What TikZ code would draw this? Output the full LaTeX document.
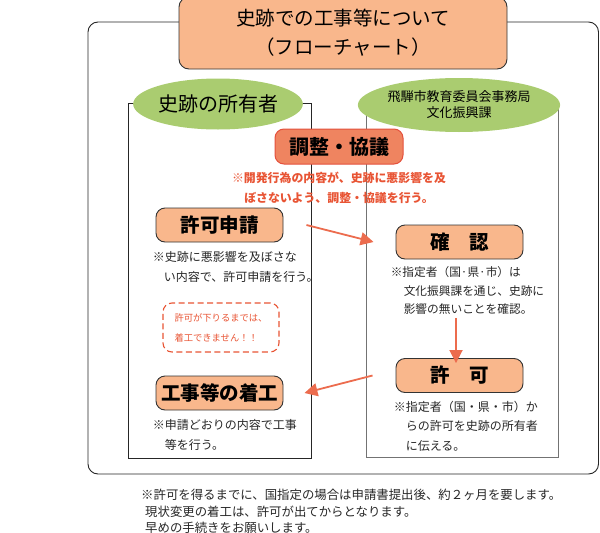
\documentclass[tikz,border=0pt]{standalone}
\usepackage{fontspec}
\setmainfont{Noto Sans CJK JP}
\usetikzlibrary{arrows.meta,positioning,shapes.geometric}
\definecolor{boxfill}{RGB}{249,183,140}
\definecolor{leaf}{RGB}{170,204,112}
\definecolor{talk}{RGB}{239,132,96}
\definecolor{talkline}{RGB}{228,80,60}
\definecolor{warn}{RGB}{232,84,52}
\definecolor{flow}{RGB}{236,108,78}
\newcommand{\fs}[2]{\fontsize{#1}{#2}\selectfont}

\begin{document}
\begin{tikzpicture}[x=1pt, y=-1pt,
  font=\fs{12}{19.5},
  outer/.style={draw=black!85, line width=0.9pt, rounded corners=10pt},
  colbox/.style={draw=black!85, line width=0.9pt},
  ttl/.style={draw=black!80, line width=0.9pt, rounded corners=10pt, fill=boxfill, minimum width=328pt, minimum height=72pt, align=center, font=\fs{19.5}{29}},
  ov/.style={ellipse, fill=leaf, inner sep=0pt, align=center},
  talkbox/.style={draw=talkline, line width=1pt, rounded corners=9pt, fill=talk, minimum width=128pt, minimum height=35pt, inner sep=0pt, font=\fs{20}{20}\bfseries},
  stepbox/.style={draw=black!80, line width=0.9pt, rounded corners=9pt, fill=boxfill, minimum width=127pt, minimum height=34pt, inner sep=0pt, font=\fs{19.5}{20}\bfseries},
  warnnote/.style={text=warn, align=center, inner sep=0pt, font=\fs{11.9}{20}\bfseries},
  nt/.style={anchor=north west, align=left, inner sep=0pt, text=black!85},
  hold/.style={draw=warn, dashed, dash pattern=on 6pt off 3.5pt, line width=1.1pt, rounded corners=9pt, minimum width=116pt, minimum height=49pt, inner sep=0pt, align=left, text=warn, font=\fs{9.3}{20}},
  pf/.style={draw=flow, line width=1.8pt, -{Triangle[length=13pt,width=13pt]}}
]
\useasboundingbox (0,0) rectangle (600,533);

% frames
\draw[outer] (88,22) rectangle (598.5,474);
\draw[colbox] (128,103) rectangle (311,458);
\draw[colbox, draw=black!55] (366,104) rectangle (558,457);

\node[ttl] (title) at (343,33) {史跡での工事等について\\（フローチャート）};
\node[ov, minimum width=150pt, minimum height=51pt, font=\fs{20}{20}] (owner) at (218,104) {史跡の所有者};
\node[ov, minimum width=168pt, minimum height=54pt, font=\fs{13}{16}] (city) at (459,105) {飛騨市教育委員会事務局\\文化振興課};

\node[talkbox] (talk) at (339,146.5) {調整・協議};
\node[warnnote, below=7pt of talk] (talkn) {※開発行為の内容が、史跡に悪影響を及\\ぼさないよう、調整・協議を行う。};

% owner side
\node[stepbox] (req) at (219.5,225) {許可申請};
\node[nt, below right=9pt and -3pt of req.south west] (reqn) {※史跡に悪影響を及ぼさな\\\hspace*{11pt}い内容で、許可申請を行う。};
\node[hold] (wait) at (221,327.5) {許可が下りるまでは、\\着工できません！！};
\node[stepbox] (work) at (219.5,393) {工事等の着工};
\node[nt, below right=9pt and -3pt of work.south west] (workn) {※申請どおりの内容で工事\\\hspace*{12pt}等を行う。};

% city side
\node[stepbox] (chk) at (459.5,242) {確　認};
\node[nt, font=\fs{11.7}{18.5}, below right=7pt and -5pt of chk.south west] (chkn) {※指定者（国·県·市）は\\\hspace*{13pt}文化振興課を通じ、史跡に\\\hspace*{13pt}影響の無いことを確認。};
\node[stepbox] (perm) at (459.5,375.5) {許　可};
\node[nt, below right=8pt and -2pt of perm.south west] (permn) {※指定者（国・県・市）か\\\hspace*{12pt}らの許可を史跡の所有者\\\hspace*{12pt}に伝える。};

\node[nt, font=\fs{12.4}{16.5}] (memo) at (141,489) {※許可を得るまでに、国指定の場合は申請書提出後、約２ヶ月を要します。\\\hspace*{4pt}現状変更の着工は、許可が出てからとなります。\\\hspace*{4pt}早めの手続きをお願いします。};

\draw[pf] ([xshift=23pt]req.east) -- ([xshift=-22pt]chk.west);
\draw[pf] ([xshift=-3.5pt,yshift=-3pt]chkn.south -| perm.north) -- ([xshift=-3.5pt,yshift=-5pt]perm.north);
\draw[pf] ([xshift=-23pt]perm.west) -- ([xshift=21pt]work.east);
\end{tikzpicture}
\end{document}
